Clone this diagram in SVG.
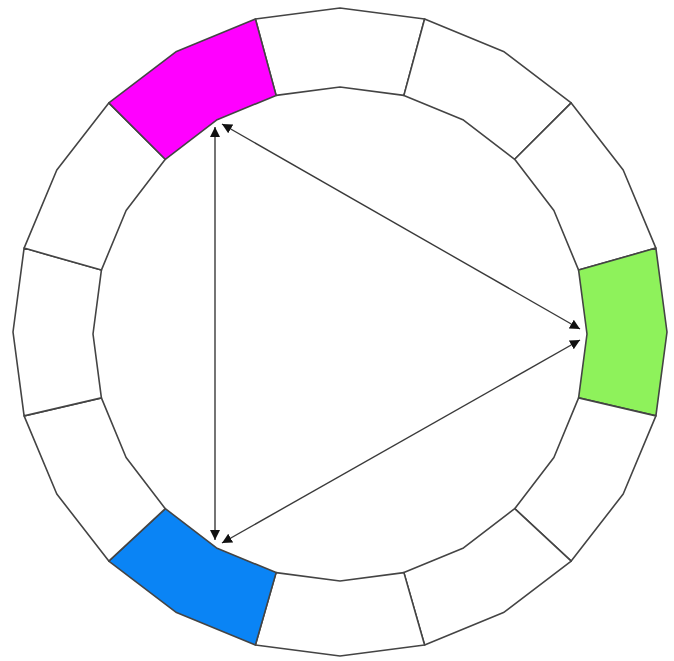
<svg xmlns="http://www.w3.org/2000/svg" width="674" height="661" viewBox="0 0 674 661">
<style>
.seg{fill:#ffffff;stroke:#444444;stroke-width:1.6;stroke-linejoin:round}
.mag{fill:#ff00ff}
.grn{fill:#8ef25b}
.blu{fill:#0a84f5}
.conn{stroke:#3a3a3a;stroke-width:1.4;fill:none;marker-start:url(#ah);marker-end:url(#ah)}
</style>
<defs>
<marker id="ah" markerUnits="userSpaceOnUse" markerWidth="12" markerHeight="12" refX="10" refY="6" orient="auto-start-reverse" viewBox="0 0 12 12">
<path d="M0,1 L10,6 L0,11 Z" fill="#111111"/>
</marker>
</defs>
<rect width="674" height="661" fill="#ffffff"/>
<g id="seg0"><polygon class="seg" points="255.4,19 340,8 424.6,19 403.9,95.4 340,87 276.1,95.4"/></g>
<g id="seg1"><polygon class="seg" points="424.6,19 503.5,51.4 571.2,102.9 514.7,159.3 463.5,120.1 403.9,95.4"/></g>
<g id="seg2"><polygon class="seg" points="571.2,102.9 623.2,170 655.9,248.1 578.6,270.1 553.9,210.5 514.7,159.3"/></g>
<g id="seg3"><polygon class="seg grn" points="655.9,248.1 667,332 655.9,415.9 578.6,397.9 587,334 578.6,270.1"/></g>
<g id="seg4"><polygon class="seg" points="655.9,415.9 623.2,494 571.2,561.1 514.7,508.7 553.9,457.5 578.6,397.9"/></g>
<g id="seg5"><polygon class="seg" points="571.2,561.1 503.5,612.6 424.6,645 403.9,572.6 463.5,547.9 514.7,508.7"/></g>
<g id="seg6"><polygon class="seg" points="424.6,645 340,656 255.4,645 276.1,572.6 340,581 403.9,572.6"/></g>
<g id="seg7"><polygon class="seg blu" points="255.4,645 176.5,612.6 108.8,561.1 165.3,508.7 216.5,547.9 276.1,572.6"/></g>
<g id="seg8"><polygon class="seg" points="108.8,561.1 56.8,494 24.1,415.9 101.4,397.9 126.1,457.5 165.3,508.7"/></g>
<g id="seg9"><polygon class="seg" points="24.1,415.9 13,332 24.1,248.1 101.4,270.1 93,334 101.4,397.9"/></g>
<g id="seg10"><polygon class="seg" points="24.1,248.1 56.8,170 108.8,102.9 165.3,159.3 126.1,210.5 101.4,270.1"/></g>
<g id="seg11"><polygon class="seg mag" points="108.8,102.9 176.5,51.4 255.4,19 276.1,95.4 216.5,120.1 165.3,159.3"/></g>
<g id="connectors">
<line class="conn" x1="215" y1="127" x2="215" y2="540"/>
<line class="conn" x1="222" y1="124" x2="580" y2="329"/>
<line class="conn" x1="222" y1="543" x2="580" y2="340"/>
</g>
</svg>
